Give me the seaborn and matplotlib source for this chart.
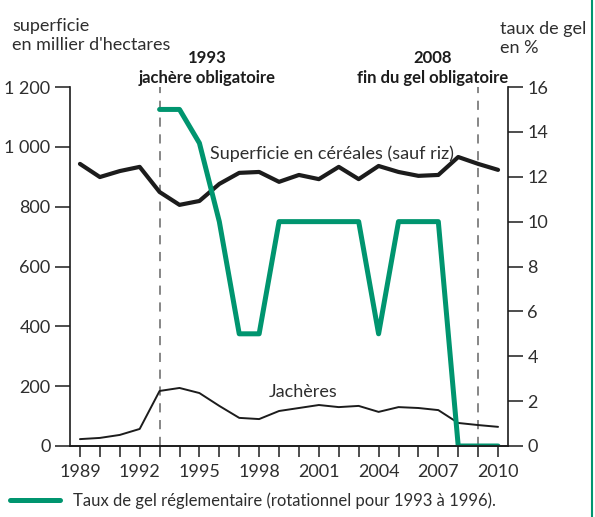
import matplotlib
matplotlib.use("Agg")
import matplotlib.pyplot as plt
from matplotlib.ticker import FuncFormatter, MultipleLocator
import seaborn as sns
import pandas as pd

years = list(range(1989, 2011))
cereales = [943, 899, 919, 933, 849, 806, 819, 876, 913, 916, 883, 906, 892, 933,
            892, 936, 916, 903, 906, 966, 943, 923]
jacheres = [23, 27, 37, 57, 184, 194, 177, 134, 94, 90, 117, 127, 137, 130,
            134, 114, 130, 127, 120, 77, 70, 64]
gel_years = list(range(1993, 2011))
taux_gel = [15, 15, 13.5, 10, 5, 5, 10, 10, 10, 10, 10, 5, 10, 10, 10, 0, 0, 0]
reperes = [1993, 2009]

GREEN = "#00956f"
INK = "#1c1c1c"
TXT = "#2e2e2e"

sns.set_style("ticks")
plt.rcParams["font.family"] = ["Lato", "DejaVu Sans"]

df = pd.DataFrame({"annee": years, "cereales": cereales, "jacheres": jacheres})
dg = pd.DataFrame({"annee": gel_years, "taux": taux_gel})

fig = plt.figure(figsize=(5.95, 5.17), dpi=100)
ax = fig.add_axes([70 / 595, 71 / 517, 438 / 595, 359 / 517])
ax2 = ax.twinx()

sns.lineplot(data=df, x="annee", y="cereales", ax=ax, color=INK, lw=3.0)
sns.lineplot(data=df, x="annee", y="jacheres", ax=ax, color=INK, lw=1.4)
sns.lineplot(data=dg, x="annee", y="taux", ax=ax2, color=GREEN, lw=3.6,
             label="Taux de gel réglementaire (rotationnel pour 1993 à 1996).")

for r in reperes:
    ax.axvline(r, color="#666666", lw=1.1, ls=(0, (6, 5)), zorder=0)

ax.set_xlim(1988.5, 2010.5)
ax.set_ylim(0, 1200)
ax2.set_ylim(0, 16)
ax.yaxis.set_major_locator(MultipleLocator(200))
ax.yaxis.set_major_formatter(FuncFormatter(lambda v, p: f"{int(v):,}".replace(",", " ")))
ax2.yaxis.set_major_locator(MultipleLocator(2))
ax.set_xticks(years)
ax.set_xticklabels([str(y) if (y - 1989) % 3 == 0 else "" for y in years])

for a in (ax, ax2):
    a.set_xlabel("")
    a.set_ylabel("")
    a.spines["top"].set_visible(False)
    for s in a.spines.values():
        s.set_linewidth(1.2)
        s.set_color(INK)
    a.tick_params(length=11, width=1.1, color=INK, labelcolor=TXT, labelsize=13, pad=3)
ax.spines["right"].set_visible(False)
ax2.spines["left"].set_visible(False)
ax.tick_params(axis="x", length=8, pad=5)

ax.text(-0.132, 1.095, "superficie\nen millier d'hectares", transform=ax.transAxes,
        fontsize=13, color=TXT, va="bottom", ha="left", linespacing=1.25)
ax.text(0.982, 1.085, "taux de gel\nen %", transform=ax.transAxes,
        fontsize=13, color=TXT, va="bottom", ha="left", linespacing=1.25)
ax.text(1995.4, 1205, "1993\njachère obligatoire", fontsize=12, fontweight="bold",
        color=INK, ha="center", va="bottom", linespacing=1.3)
ax.text(2006.7, 1205, "2008\nfin du gel obligatoire", fontsize=12, fontweight="bold",
        color=INK, ha="center", va="bottom", linespacing=1.3)
ax.text(2001.66, 976, "Superficie en céréales (sauf riz)", fontsize=13, color=TXT,
        ha="center", va="center")
ax.text(2000.2, 180, "Jachères", fontsize=13, color=TXT, ha="center", va="center")

ax2.legend(loc="lower left", bbox_to_anchor=(0.0, -0.004), bbox_transform=fig.transFigure,
           frameon=False, fontsize=12, handlelength=3.0, handletextpad=0.8,
           labelcolor=TXT, borderaxespad=0.2)

fig.add_artist(plt.Line2D([592 / 595, 592 / 595], [0, 1], color=GREEN, lw=1.5))

fig.savefig("out.png", dpi=100)
